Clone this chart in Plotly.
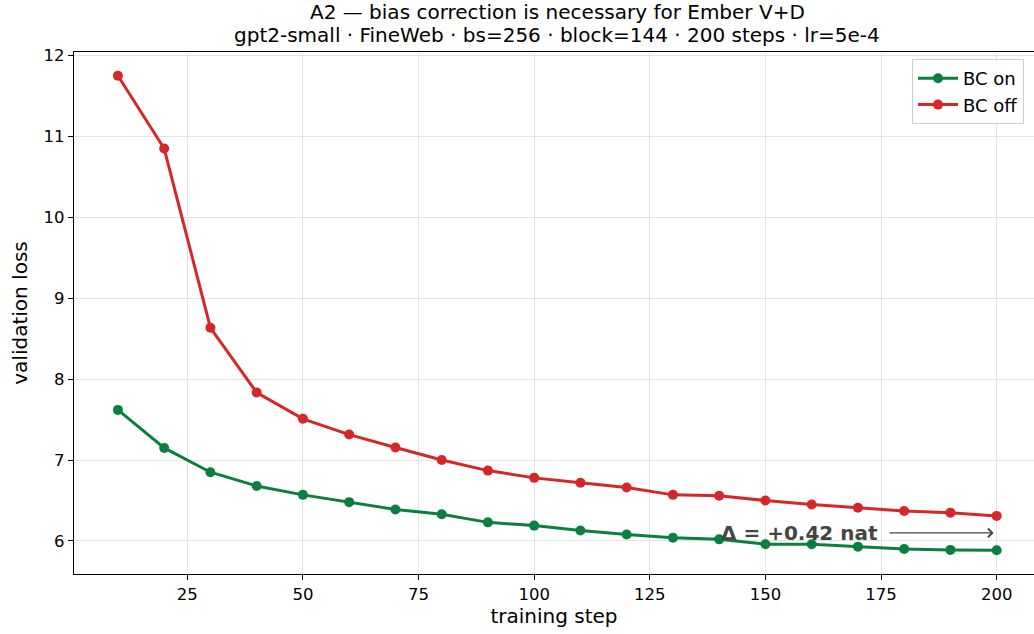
import plotly.graph_objects as go

steps = [10, 20, 30, 40, 50, 60, 70, 80, 90, 100, 110, 120, 130, 140, 150, 160, 170, 180, 190, 200]
bc_on = [7.62, 7.15, 6.85, 6.68, 6.57, 6.48, 6.39, 6.33, 6.23, 6.19, 6.13, 6.08, 6.04, 6.02, 5.96, 5.96, 5.93, 5.90, 5.89, 5.885]
bc_off = [11.75, 10.85, 8.635, 7.835, 7.51, 7.315, 7.155, 7.00, 6.87, 6.78, 6.72, 6.66, 6.57, 6.56, 6.50, 6.45, 6.41, 6.37, 6.35, 6.31]
x_ticks = [25, 50, 75, 100, 125, 150, 175, 200]
y_ticks = [6, 7, 8, 9, 10, 11, 12]
title_lines = ["A2 — bias correction is necessary for Ember V+D",
               "gpt2-small · FineWeb · bs=256 · block=144 · 200 steps · lr=5e-4"]

GREEN = "#0b7f3f"
RED = "#d62728"
FONT = "DejaVu Sans"

# plot area in pixels
L, T, B = 74, 52, 60
W_FIG, H_FIG = 1034, 634
PW = W_FIG - L
PH = H_FIG - T - B


def py(pix):
    return (H_FIG - B - pix) / PH


def px(pix):
    return (pix - L) / PW


fig = go.Figure()
fig.add_trace(go.Scatter(x=steps, y=bc_on, mode="lines+markers", name="BC on",
                         line=dict(color=GREEN, width=3), marker=dict(color=GREEN, size=10)))
fig.add_trace(go.Scatter(x=steps, y=bc_off, mode="lines+markers", name="BC off",
                         line=dict(color=RED, width=3), marker=dict(color=RED, size=10)))

delta = bc_off[-1] - bc_on[-1]
fig.add_annotation(x=140, y=6.10, xref="x", yref="y", text=f"<b>Δ = +{delta:.2f} nat</b>",
                   showarrow=False, xanchor="left", yanchor="middle",
                   font=dict(family=FONT, size=20, color="#444444"))
fig.add_annotation(x=200, y=6.10, ax=176.5, ay=6.10, xref="x", yref="y", axref="x", ayref="y",
                   text="", showarrow=True, arrowhead=4, arrowsize=1.3, arrowwidth=1.3,
                   arrowcolor="#444444", standoff=3)

for line, ypix in zip(title_lines, [12, 35]):
    fig.add_annotation(x=px(557), y=py(ypix), xref="paper", yref="paper", text=line,
                       showarrow=False, xanchor="center", yanchor="middle",
                       font=dict(family=FONT, size=20, color="black"))

fig.update_layout(
    width=W_FIG, height=H_FIG,
    margin=dict(l=L, r=0, t=T, b=B, autoexpand=False),
    paper_bgcolor="white", plot_bgcolor="white",
    font=dict(family=FONT, size=16, color="black"),
    legend=dict(x=px(912), xanchor="left", y=py(59), yanchor="top",
                bgcolor="rgba(255,255,255,0.9)", bordercolor="#cccccc", borderwidth=1,
                tracegroupgap=0, itemwidth=40,
                font=dict(family=FONT, size=18, color="black")),
    showlegend=True,
)
fig.update_xaxes(range=[0.5, 208.07], tickvals=x_ticks, ticks="outside", ticklen=5, tickwidth=1,
                 tickcolor="black", showline=True, linecolor="black", linewidth=1.2, mirror=True,
                 showgrid=True, gridcolor="#e3e3e3", gridwidth=1, zeroline=False, automargin=False,
                 tickfont=dict(family=FONT, size=16.5),
                 title=dict(text="training step", font=dict(family=FONT, size=20), standoff=6))
fig.update_yaxes(range=[5.592, 12.043], tickvals=y_ticks, ticks="outside", ticklen=5, tickwidth=1,
                 tickcolor="black", showline=True, linecolor="black", linewidth=1.2, mirror=False,
                 showgrid=True, gridcolor="#e3e3e3", gridwidth=1, zeroline=False, automargin=False,
                 tickfont=dict(family=FONT, size=16.5),
                 title=dict(text="validation loss", font=dict(family=FONT, size=20), standoff=10))

fig.write_html("out.html", config={"displayModeBar": False},
               post_script="document.body.style.margin='0px';document.body.style.overflow='hidden';")
